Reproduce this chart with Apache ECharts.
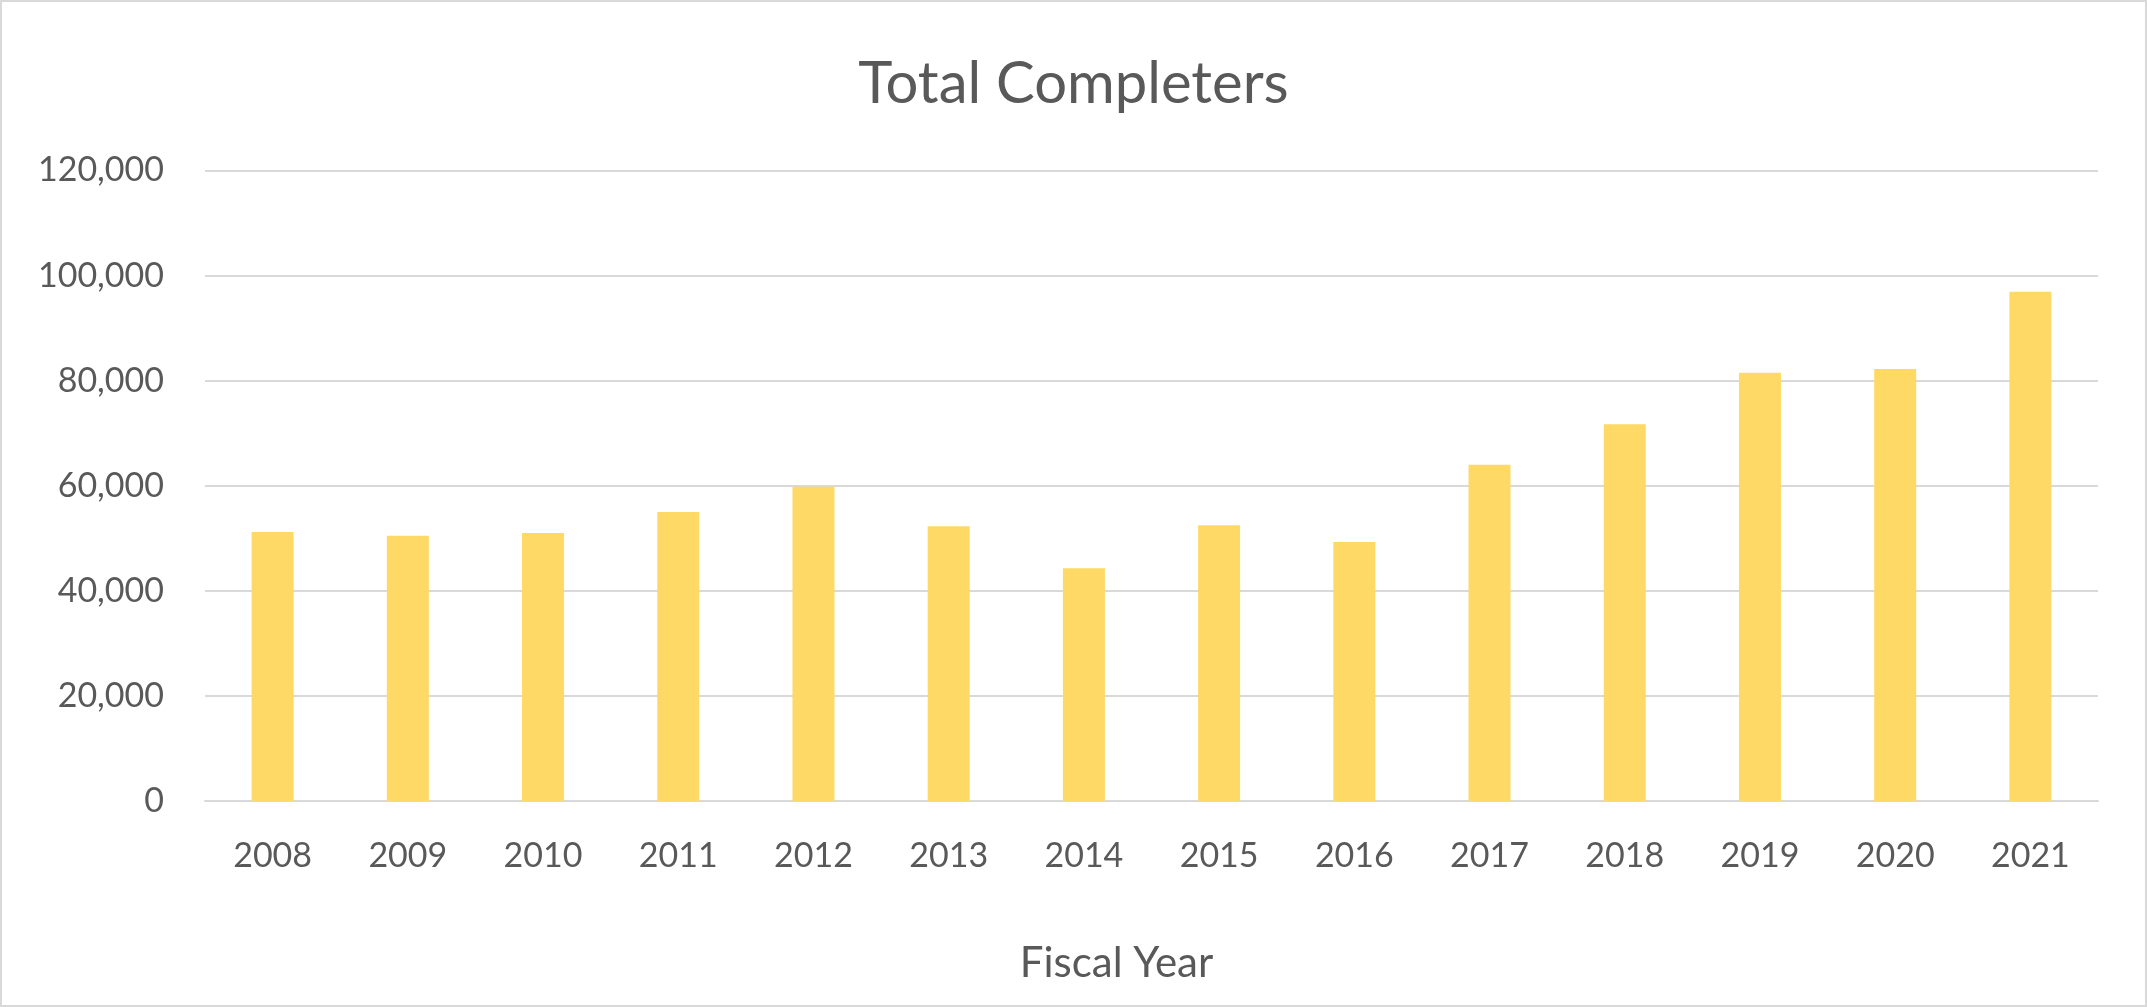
<!DOCTYPE html>
<html>
<head>
<meta charset="utf-8">
<script src="https://cdn.jsdelivr.net/npm/echarts@6/dist/echarts.min.js"></script>
<style>
html,body{margin:0;padding:0;background:#fff;}
#chart{width:2147px;height:1007px;}
</style>
</head>
<body>
<div id="chart"></div>
<script>
const categories = ['2008','2009','2010','2011','2012','2013','2014','2015','2016','2017','2018','2019','2020','2021'];
const completers = [51200, 50500, 51000, 55000, 59800, 52300, 44300, 52500, 49300, 64000, 71700, 81500, 82200, 96900];
const yTicks = { min: 0, max: 120000, interval: 20000 };
const titleText = 'Total Completers';
const xAxisName = 'Fiscal Year';

const FONT = 'Lato';
const TXT = '#595959';
const chart = echarts.init(document.getElementById('chart'), null, {renderer: 'canvas'});
chart.setOption({
  backgroundColor: '#ffffff',
  animation: false,
  title: {
    text: titleText,
    left: 'center',
    top: 50,
    textStyle: { fontFamily: FONT, fontSize: 58, fontWeight: 'normal', color: TXT }
  },
  graphic: [{
    type: 'rect',
    shape: { x: 1, y: 1, width: 2145, height: 1005 },
    style: { fill: 'none', stroke: '#d9d9d9', lineWidth: 2 },
    silent: true
  }],
  grid: { left: 205, right: 49, top: 170.5, bottom: 206, containLabel: false },
  xAxis: {
    type: 'category',
    data: categories,
    name: xAxisName,
    nameLocation: 'middle',
    nameGap: 141,
    nameTextStyle: { fontFamily: FONT, fontSize: 42, color: TXT, padding: [0, 70, 0, 0] },
    axisLine: { show: true, lineStyle: { color: '#d9d9d9', width: 2 } },
    axisTick: { show: false },
    axisLabel: { fontFamily: FONT, fontSize: 34, color: TXT, margin: 38 }
  },
  yAxis: {
    type: 'value',
    min: yTicks.min,
    max: yTicks.max,
    interval: yTicks.interval,
    axisLine: { show: false },
    axisTick: { show: false },
    splitLine: { lineStyle: { color: '#d9d9d9', width: 2 } },
    axisLabel: {
      fontFamily: FONT, fontSize: 34, color: TXT, margin: 41,
      formatter: v => v.toLocaleString('en-US')
    }
  },
  series: [{
    type: 'bar',
    data: completers,
    barWidth: 42,
    itemStyle: { color: '#FFD966' }
  }]
});
</script>
</body>
</html>
